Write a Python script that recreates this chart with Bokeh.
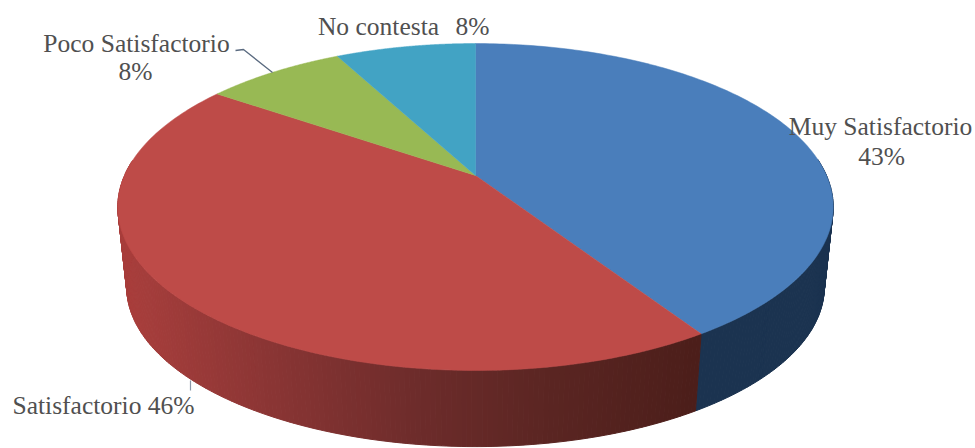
import numpy as np
from bokeh.core.properties import value
from bokeh.embed import file_html
from bokeh.models import ColumnDataSource
from bokeh.plotting import figure
from bokeh.resources import INLINE

# Survey shares, clockwise from twelve o'clock
categories = ["Muy Satisfactorio", "Satisfactorio", "Poco Satisfactorio", "No contesta"]
shares = [43, 46, 8, 8]
top_colors = ["#4a7ebb", "#be4b48", "#98b954", "#42a3c4"]

# Rim shading of each slice: left-to-right colour ramp along the screen
rim_ramps = [
    ["#1b3350", "#1b3350"],
    ["#a83e3c", "#8a3534", "#6e2c2b", "#5a2522", "#4c1e1a"],
    ["#5c7030", "#5c7030"],
    ["#26667a", "#26667a"],
]

# Perspective of the tilted disc
APEX_X, APEX_Y = 475.0, 175.0
SCALE_U, SCALE_V, TILT = 351.0, 157.4, -0.1927
DEPTH, LOWER_SCALE = 81.0, 0.975


def project(angle, radius=1.0, drop=0.0, scale=1.0):
    u = radius * np.sin(angle)
    v = -radius * np.cos(angle)
    w = 1 + TILT * v
    return APEX_X + scale * SCALE_U * u / w, APEX_Y + drop + scale * SCALE_V * v / w


def ramp_color(stops, t):
    rgb = [[int(s[i:i + 2], 16) for i in (1, 3, 5)] for s in stops]
    pos = np.linspace(0, 1, len(rgb))
    channels = [np.interp(t, pos, [c[k] for c in rgb]) for k in range(3)]
    return "#%02x%02x%02x" % tuple(int(round(c)) for c in channels)


edges = np.cumsum([0] + shares) / sum(shares) * 2 * np.pi

p = figure(width=975, height=448, x_range=(0, 975), y_range=(448, 0),
           toolbar_location=None, output_backend="svg", min_border=0,
           x_axis_location=None, y_axis_location=None,
           background_fill_color="white", border_fill_color="white",
           outline_line_color=None)
p.grid.visible = False

# Outer rim as thin strips, back to front so the nearer ones overlap
strips_x, strips_y, strips_c = [], [], []
for i in range(len(shares)):
    steps = max(int((edges[i + 1] - edges[i]) / 0.012), 2)
    a = np.linspace(edges[i], edges[i + 1], steps + 1)
    for a0, a1 in zip(a[:-1], a[1:]):
        if np.cos((a0 + a1) / 2) > 0.1:
            continue
        x0, y0 = project(a0)
        x1, y1 = project(a1)
        x2, y2 = project(a1, drop=DEPTH, scale=LOWER_SCALE)
        x3, y3 = project(a0, drop=DEPTH, scale=LOWER_SCALE)
        strips_x.append([x0, x1, x2, x3])
        strips_y.append([y0, y1, y2, y3])
        t = float(np.clip(((x0 + x1) / 2 - 125) / 570, 0, 1))
        strips_c.append(ramp_color(rim_ramps[i], t))
p.patches("x", "y", source=ColumnDataSource(dict(x=strips_x, y=strips_y, c=strips_c)),
          fill_color="c", line_color="c", line_width=1)

# Top face of each slice
face_x, face_y = [], []
for i in range(len(shares)):
    a = np.linspace(edges[i], edges[i + 1], 160)
    x, y = project(a)
    face_x.append([APEX_X, *x])
    face_y.append([APEX_Y, *y])
p.patches("x", "y", source=ColumnDataSource(dict(x=face_x, y=face_y, c=top_colors)),
          fill_color="c", line_color="c", line_width=0.5)

# Leader lines
p.line([235, 243, 272], [50, 49, 72], line_color="#5b6b80", line_width=1.3)
p.line([190, 190], [380, 390], line_color="#8a97a8", line_width=1.2)

# Labels
pct = [f"{s}%" for s in shares]
label_text = [categories[0], pct[0], f"{categories[1]} {pct[1]}", categories[2], pct[2],
              categories[3], pct[3]]
label_x = [880, 881, 103, 136, 135, 378, 472]
label_y = [126, 156, 405, 43, 71, 26, 26]
p.text(label_x, label_y, text=label_text, text_font=value("Liberation Serif"),
       text_font_size="25.5px", text_color="#505050", text_align="center",
       text_baseline="middle")

open("out.html", "w").write(file_html(p, INLINE))
